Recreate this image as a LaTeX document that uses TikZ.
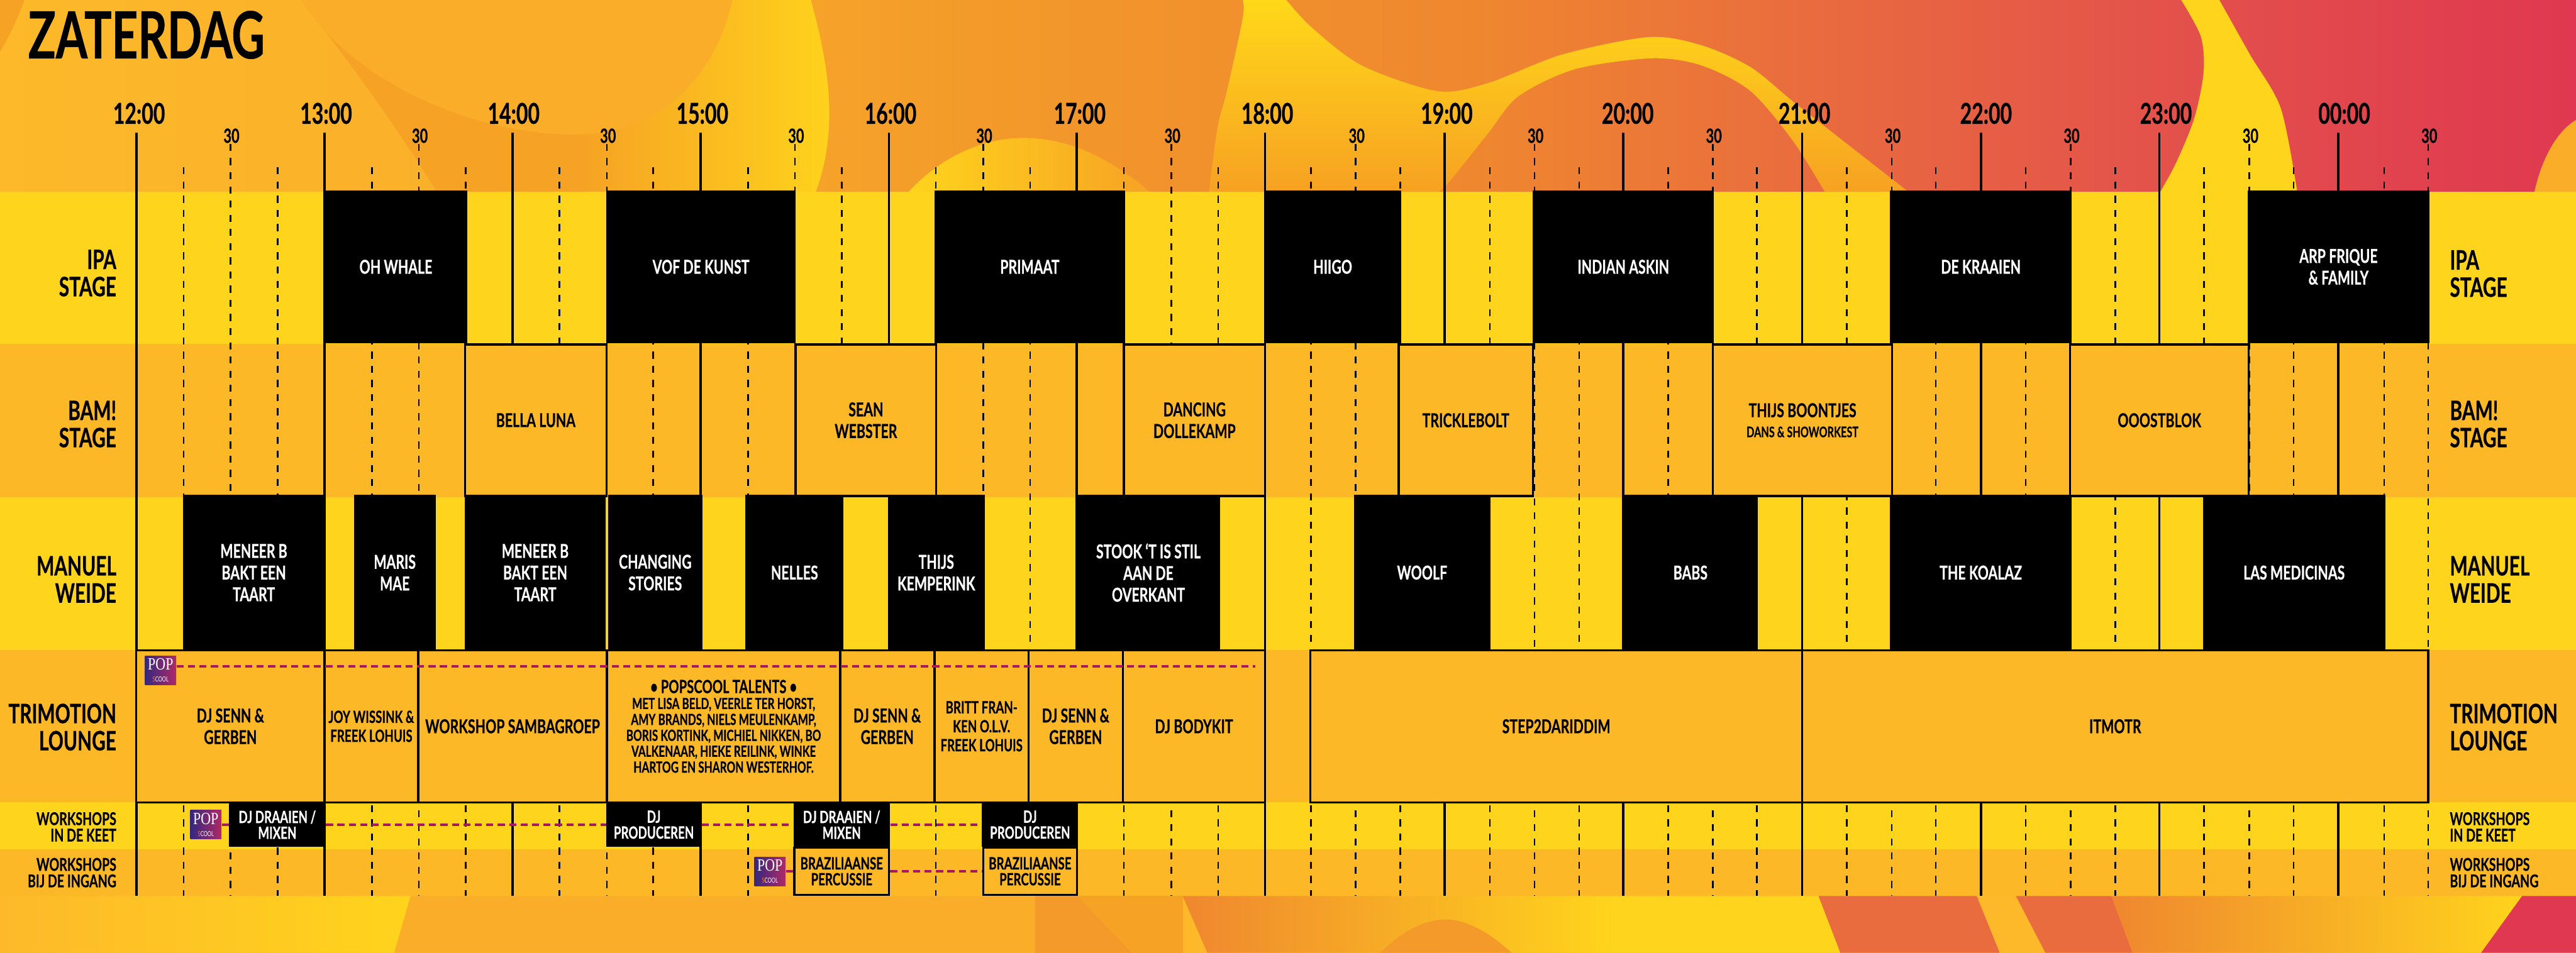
\documentclass[tikz,border=0pt]{standalone}
\usepackage{fontspec}
\setmainfont{Lato}[FakeStretch=0.70, BoldFeatures={FakeBold=0.5}]
\newfontfamily\popfont{Liberation Serif}[FakeStretch=0.8]
\usetikzlibrary{positioning}

\definecolor{bandyellow}{HTML}{FFD41C}
\definecolor{bandorange}{HTML}{FDB827}
\definecolor{patchdark}{HTML}{F6A224}
\definecolor{patchmid}{HTML}{FAAD28}
\definecolor{popdash}{HTML}{A9175F}
\definecolor{popblue}{HTML}{35287F}
\definecolor{popmag}{HTML}{B02868}
\definecolor{sweepa}{HTML}{FDB92A}
\definecolor{sweepb}{HTML}{F9AC2A}
\definecolor{sweepc}{HTML}{F39A2A}
\definecolor{sweepd}{HTML}{EF872F}
\definecolor{sweepe}{HTML}{E96C3E}
\definecolor{sweepf}{HTML}{E4544A}
\definecolor{sweepg}{HTML}{DF3850}
\pgfdeclarehorizontalshading{sweep}{100bp}{color(0bp)=(sweepa); color(25bp)=(sweepa); color(37.7bp)=(sweepb); color(44bp)=(sweepc); color(53.6bp)=(sweepd); color(60bp)=(sweepe); color(66.3bp)=(sweepf); color(75bp)=(sweepg); color(100bp)=(sweepg)}

\begin{document}
\begin{tikzpicture}[
    y=-1cm,
    hourlabel/.style={font=\bfseries\fontsize{15}{17}\selectfont},
    halflabel/.style={font=\bfseries\fontsize{10.2}{12}\selectfont},
    hourline/.style={line width=1.15pt},
    halfline/.style={line width=0.85pt, dash pattern=on 0.13cm off 0.13cm},
    rowleft/.style={anchor=east, align=right, inner sep=0pt, font=\bfseries\fontsize{14}{14.2}\selectfont},
    rowright/.style={anchor=west, align=left, inner sep=0pt, font=\bfseries\fontsize{14}{14.2}\selectfont},
    smallleft/.style={rowleft, font=\bfseries\fontsize{9.2}{8.6}\selectfont},
    smallright/.style={rowright, font=\bfseries\fontsize{9.2}{8.6}\selectfont},
    slotblack/.style={fill=black, text=white, align=center, inner sep=0pt, font=\bfseries\fontsize{10}{11.3}\selectfont},
    slotline/.style={draw, line width=1.1pt, fill=bandorange, align=center, inner sep=0pt, font=\bfseries\fontsize{10}{11.3}\selectfont},
    ipaslot/.style={slotblack, minimum height=2.81cm},
    bamslot/.style={slotline, minimum height=2.78cm},
    manslot/.style={slotblack, minimum height=2.85cm},
    trislot/.style={slotline, minimum height=2.79cm},
    keetslot/.style={slotblack, minimum height=0.82cm, font=\bfseries\fontsize{8.8}{8.3}\selectfont},
    ingangslot/.style={slotline, minimum height=0.87cm, font=\bfseries\fontsize{8.8}{8.3}\selectfont},
    popicon/.style={shade, shading angle=60, left color=popblue, right color=popmag, text=white, align=center, inner sep=0pt, minimum width=0.57cm, minimum height=0.53cm, font=\fontsize{3.6}{6.4}\selectfont},
    popline/.style={popdash, line width=1.3pt, dash pattern=on 0.13cm off 0.08cm}
]
    \useasboundingbox (0,0) rectangle (47.24,17.48);

    % background top
    \shade[shading=sweep] (0,0) rectangle (47.24,3.6);
    \fill[patchdark] (0,0) -- (0.45,0) .. controls (0.3,0.4) and (0.15,0.7) .. (0,0.95) -- cycle;
    \fill[patchdark] (5.52,0) .. controls (6.3,1.0) and (7.2,2.2) .. (8.06,3.6) -- (14.93,3.6) -- (14.87,0) -- cycle;
    \fill[patchmid] (5.52,0) .. controls (6.4,1.4) and (8.5,2.47) .. (10.6,2.47) .. controls (12.0,2.47) and (13.1,1.5) .. (13.43,0) -- cycle;
    \shade[left color=patchdark, right color=bandyellow] (13.43,0) -- (14.87,0) .. controls (15.2,1.2) and (15.4,2.4) .. (14.93,3.6) -- (10.6,3.6) -- (10.6,2.47) .. controls (12.0,2.47) and (13.1,1.5) .. (13.43,0) -- cycle;
    \shade[left color=bandyellow, right color=patchdark] (16.59,3.6) .. controls (17.2,2.9) and (18.0,2.53) .. (18.77,2.53) .. controls (19.7,2.53) and (20.5,3.0) .. (21.18,3.6) -- cycle;
    \shade[top color=bandyellow!90!yellow, bottom color=patchdark!95!orange] (22.79,0) -- plot[smooth] coordinates {(23.59,0) (24.05,0.5) (24.97,1.2) (26.35,1.67) (27.27,1.53) (28.65,1.0) (30.24,0.68) (31.2,0.83) (32.1,1.23) (32.89,1.87) (33.91,2.67) (35.1,3.6)} -- plot[smooth] coordinates {(33.51,3.6) (32.89,2.6) (32.1,1.67) (31.2,1.2) (30.29,1.07) (28.88,1.27) (27.84,1.77) (27.27,2.47) (26.58,3.33) (26.29,3.6)} -- plot[smooth] coordinates {(22.16,3.6) (22.33,2.33) (22.5,1.67) (22.79,0.33) (22.79,0)} -- cycle;
    \fill[bandyellow] (40.0,0) -- plot[smooth] coordinates {(40.7,0) (41.26,1.0) (41.83,2.0) (42.14,3.6)} -- plot[smooth] coordinates {(39.57,3.6) (39.9,3.0) (40.24,2.17) (40.41,1.33) (40.36,0.67) (40.0,0)} -- cycle;
    \fill[patchmid] (46.46,3.6) .. controls (46.6,2.9) and (46.9,2.4) .. (47.24,2.2) -- (47.24,3.6) -- cycle;

    % background bottom
    \fill[sweepa] (0,16.4) rectangle (47.24,17.48);
    \shade[left color=sweepa, right color=bandyellow] (0,16.44) -- (7.53,16.44) -- (7.23,17.48) -- (0,17.48) -- cycle;
    \fill[patchmid] (7.53,16.44) -- (18.98,16.44) -- (18.98,17.48) -- (7.23,17.48) -- cycle;
    \fill[patchdark] (18.98,16.44) rectangle (21.69,17.48);
    \fill[sweepc] (18.98,16.44) -- (19.75,16.44) -- (20.75,17.48) -- (18.98,17.48) -- cycle;
    \shade[left color=sweepd, right color=bandyellow] (21.69,16.44) -- (29.52,16.44) -- (29.52,17.48) -- (22.14,17.48) -- cycle;
    \fill[bandyellow] (29.52,16.44) -- (33.35,16.44) -- (33.75,17.48) -- (29.52,17.48) -- cycle;
    \fill[sweepc] (25.31,17.48) .. controls (25.7,17.1) and (26.1,16.87) .. (26.51,16.87) .. controls (26.9,16.87) and (27.3,17.1) .. (27.72,17.48) -- cycle;
    \fill[sweepe] (33.35,16.44) -- (36.25,16.44) -- (36.67,17.48) -- (33.75,17.48) -- cycle;
    \fill[sweepe] (36.97,16.44) -- (38.72,16.44) -- (39.11,17.48) -- (37.51,17.48) -- cycle;
    \shade[left color=sweepd, right color=bandyellow] (38.72,16.44) -- (46.25,16.44) -- (45.5,17.48) -- (39.11,17.48) -- cycle;
    \fill[sweepg] (46.25,16.44) -- (47.24,16.44) -- (47.24,17.48) -- (45.5,17.48) -- cycle;

    % bands
    \fill[bandyellow] (0,3.52) rectangle (47.24,6.31);
    \fill[bandorange] (0,6.31) rectangle (47.24,9.12);
    \fill[bandyellow] (0,9.12) rectangle (47.24,11.93);
    \fill[bandorange] (0,11.93) rectangle (47.24,14.72);
    \fill[bandyellow] (0,14.72) rectangle (47.24,15.58);
    \fill[bandorange] (0,15.58) rectangle (47.24,16.44);

    % time grid
    \foreach \x/\lx/\t [count=\i] in {2.50/2.55/12:00, 5.95/5.98/13:00, 9.40/9.42/14:00, 12.85/12.88/15:00, 16.30/16.33/16:00, 19.745/19.80/17:00, 23.20/23.24/18:00, 26.49/26.53/19:00, 29.765/29.85/20:00, 33.05/33.09/21:00, 36.33/36.42/22:00, 39.60/39.72/23:00, 42.88/42.99/00:00} {
        \node[hourlabel] (hour\i) at (\lx,2.08) {\t};
        \draw[hourline] (\x,2.43) -- (\x,16.44);
    }
    \foreach \x [count=\i] in {4.225, 7.68, 11.13, 14.58, 18.03, 21.48, 24.86, 28.14, 31.41, 34.69, 37.97, 41.25, 44.53} {
        \node[halflabel] (half\i) at (\x+0.02,2.49) {30};
        \draw[halfline] (\x,2.64) -- (\x,16.44);
    }
    \foreach \x in {3.37, 5.09, 6.82, 8.54, 10.26, 11.98, 13.72, 15.44, 17.16, 18.89, 20.61, 22.34, 24.04, 25.68, 27.32, 28.96, 30.59, 32.22, 33.87, 35.50, 37.15, 38.79, 40.42, 42.06, 43.72} {
        \draw[halfline] (\x,3.07) -- (\x,16.44);
    }
    \fill[bandyellow] (11.11,9.12) rectangle (11.15,11.93);

    \node[anchor=west, inner sep=0pt, font=\bfseries\fontsize{34}{36}\selectfont] (title) at (0.51,0.64) {ZATERDAG};

    % row names
    \node[rowleft] (ipaleft) at (2.14,5.01) {IPA\\STAGE};
    \node[rowleft] (bamleft) at (2.14,7.78) {BAM!\\STAGE};
    \node[rowleft] (manleft) at (2.14,10.63) {MANUEL\\WEIDE};
    \node[rowleft] (trileft) at (2.14,13.34) {TRIMOTION\\LOUNGE};
    \node[smallleft] (keetleft) at (2.14,15.17) {WORKSHOPS\\IN DE KEET};
    \node[smallleft] (ingangleft) at (2.14,16.01) {WORKSHOPS\\BIJ DE INGANG};
    \node[rowright] (iparight) at (44.92,5.02) {IPA\\STAGE};
    \node[rowright] (bamright) at (44.92,7.78) {BAM!\\STAGE};
    \node[rowright] (manright) at (44.92,10.63) {MANUEL\\WEIDE};
    \node[rowright] (triright) at (44.92,13.34) {TRIMOTION\\LOUNGE};
    \node[smallright] (keetright) at (44.92,15.17) {WORKSHOPS\\IN DE KEET};
    \node[smallright] (ingangright) at (44.92,16.01) {WORKSHOPS\\BIJ DE INGANG};

    % ipa stage
    \node[ipaslot, minimum width=2.62cm] (ohwhale) at (7.26,4.895) {OH WHALE};
    \node[ipaslot, minimum width=3.47cm] (vof) at (12.855,4.895) {VOF DE KUNST};
    \node[ipaslot, minimum width=3.49cm] (primaat) at (18.885,4.895) {PRIMAAT};
    \node[ipaslot, minimum width=2.50cm] (hiigo) at (24.44,4.895) {HIIGO};
    \node[ipaslot, minimum width=3.32cm] (indian) at (29.77,4.895) {INDIAN ASKIN};
    \node[ipaslot, minimum width=3.33cm] (kraaien) at (36.325,4.895) {DE KRAAIEN};
    \node[ipaslot, minimum width=3.33cm] (arp) at (42.885,4.895) {ARP FRIQUE\\\& FAMILY};

    % bam stage
    \node[bamslot, minimum width=2.59cm] (bella) at (9.825,7.71) {BELLA LUNA};
    \node[bamslot, minimum width=2.58cm] (sean) at (15.88,7.71) {SEAN\\WEBSTER};
    \node[bamslot, minimum width=2.59cm] (dancing) at (21.905,7.71) {DANCING\\DOLLEKAMP};
    \node[bamslot, minimum width=2.46cm] (trickle) at (26.88,7.71) {TRICKLEBOLT};
    \node[bamslot, minimum width=3.29cm] (boontjes) at (33.055,7.71) {THIJS BOONTJES\\[-0.03cm]{\fontsize{7.6}{8}\selectfont DANS \& SHOWORKEST}};
    \node[bamslot, minimum width=3.28cm] (ooost) at (39.60,7.71) {OOOSTBLOK};

    % manuel weide
    \node[manslot, minimum width=2.59cm] (meneera) at (4.655,10.505) {MENEER B\\BAKT EEN\\TAART};
    \node[manslot, minimum width=1.50cm] (maris) at (7.24,10.505) {MARIS\\MAE};
    \node[manslot, minimum width=2.59cm] (meneerb) at (9.815,10.505) {MENEER B\\BAKT EEN\\TAART};
    \node[manslot, minimum width=1.73cm] (changing) at (12.015,10.505) {CHANGING\\STORIES};
    \node[manslot, minimum width=1.80cm] (nelles) at (14.57,10.505) {NELLES};
    \node[manslot, minimum width=1.78cm] (kemperink) at (17.17,10.505) {THIJS\\KEMPERINK};
    \node[manslot, minimum width=2.625cm] (stook) at (21.06,10.505) {STOOK `T IS STIL\\AAN DE\\OVERKANT};
    \node[manslot, minimum width=2.50cm] (woolf) at (26.08,10.505) {WOOLF};
    \node[manslot, minimum width=2.475cm] (babs) at (31.00,10.505) {BABS};
    \node[manslot, minimum width=3.33cm] (koalaz) at (36.325,10.505) {THE KOALAZ};
    \node[manslot, minimum width=3.34cm] (medicinas) at (42.07,10.505) {LAS MEDICINAS};

    % trimotion lounge
    \node[trislot, minimum width=3.45cm] (senna) at (4.225,13.325) {DJ SENN \&\\GERBEN};
    \node[trislot, minimum width=1.72cm, font=\bfseries\fontsize{8.8}{9.9}\selectfont] (joy) at (6.81,13.325) {JOY WISSINK \&\\FREEK LOHUIS};
    \node[trislot, minimum width=3.46cm] (samba) at (9.40,13.325) {WORKSHOP SAMBAGROEP};
    \node[trislot, minimum width=4.28cm, font=\bfseries\fontsize{8}{8.3}\selectfont] (talents) at (13.27,13.325) {{\fontsize{9.5}{9}\selectfont • POPSCOOL TALENTS •}\\MET LISA BELD, VEERLE TER HORST,\\AMY BRANDS, NIELS MEULENKAMP,\\BORIS KORTINK, MICHIEL NIKKEN, BO\\VALKENAAR, HIEKE REILINK, WINKE\\HARTOG EN SHARON WESTERHOF.};
    \node[trislot, minimum width=1.725cm] (sennb) at (16.27,13.325) {DJ SENN \&\\GERBEN};
    \node[trislot, minimum width=1.725cm, font=\bfseries\fontsize{8.8}{9.9}\selectfont] (britt) at (18.00,13.325) {BRITT FRAN-\\KEN O.L.V.\\FREEK LOHUIS};
    \node[trislot, minimum width=1.73cm] (sennc) at (19.725,13.325) {DJ SENN \&\\GERBEN};
    \node[trislot, minimum width=2.61cm] (bodykit) at (21.895,13.325) {DJ BODYKIT};
    \node[trislot, minimum width=9.02cm] (step) at (28.54,13.325) {STEP2DARIDDIM};
    \node[trislot, minimum width=11.48cm] (itmotr) at (38.79,13.325) {ITMOTR};

    % workshops
    \node[keetslot, minimum width=1.77cm] (draaiena) at (5.085,15.13) {DJ DRAAIEN /\\MIXEN};
    \node[keetslot, minimum width=1.74cm] (proda) at (11.99,15.13) {DJ\\PRODUCEREN};
    \node[keetslot, minimum width=1.77cm] (draaienb) at (15.435,15.13) {DJ DRAAIEN /\\MIXEN};
    \node[keetslot, minimum width=1.765cm] (prodb) at (18.89,15.13) {DJ\\PRODUCEREN};
    \node[ingangslot, minimum width=1.74cm] (perca) at (15.435,15.985) {BRAZILIAANSE\\PERCUSSIE};
    \node[ingangslot, minimum width=1.72cm] (percb) at (18.89,15.985) {BRAZILIAANSE\\PERCUSSIE};

    % popscool
    \node[popicon] (popa) at (2.945,12.295) {{\popfont\fontsize{9}{7}\selectfont POP}\\{\color{orange}S}COOL};
    \node[popicon] (popb) at (3.775,15.13) {{\popfont\fontsize{9}{7}\selectfont POP}\\{\color{orange}S}COOL};
    \node[popicon] (popc) at (14.12,15.985) {{\popfont\fontsize{9}{7}\selectfont POP}\\{\color{orange}S}COOL};
    \coordinate (triend) at (23.02,12.23);

    \draw[popline] (popa.east |- triend) -- (triend);
    \draw[popline] (popb) -- (draaiena);
    \draw[popline] (draaiena) -- (proda);
    \draw[popline] (proda) -- (draaienb);
    \draw[popline] (draaienb) -- (prodb);
    \draw[popline] (popc) -- (perca);
    \draw[popline] (perca) -- (percb);
\end{tikzpicture}
\end{document}
